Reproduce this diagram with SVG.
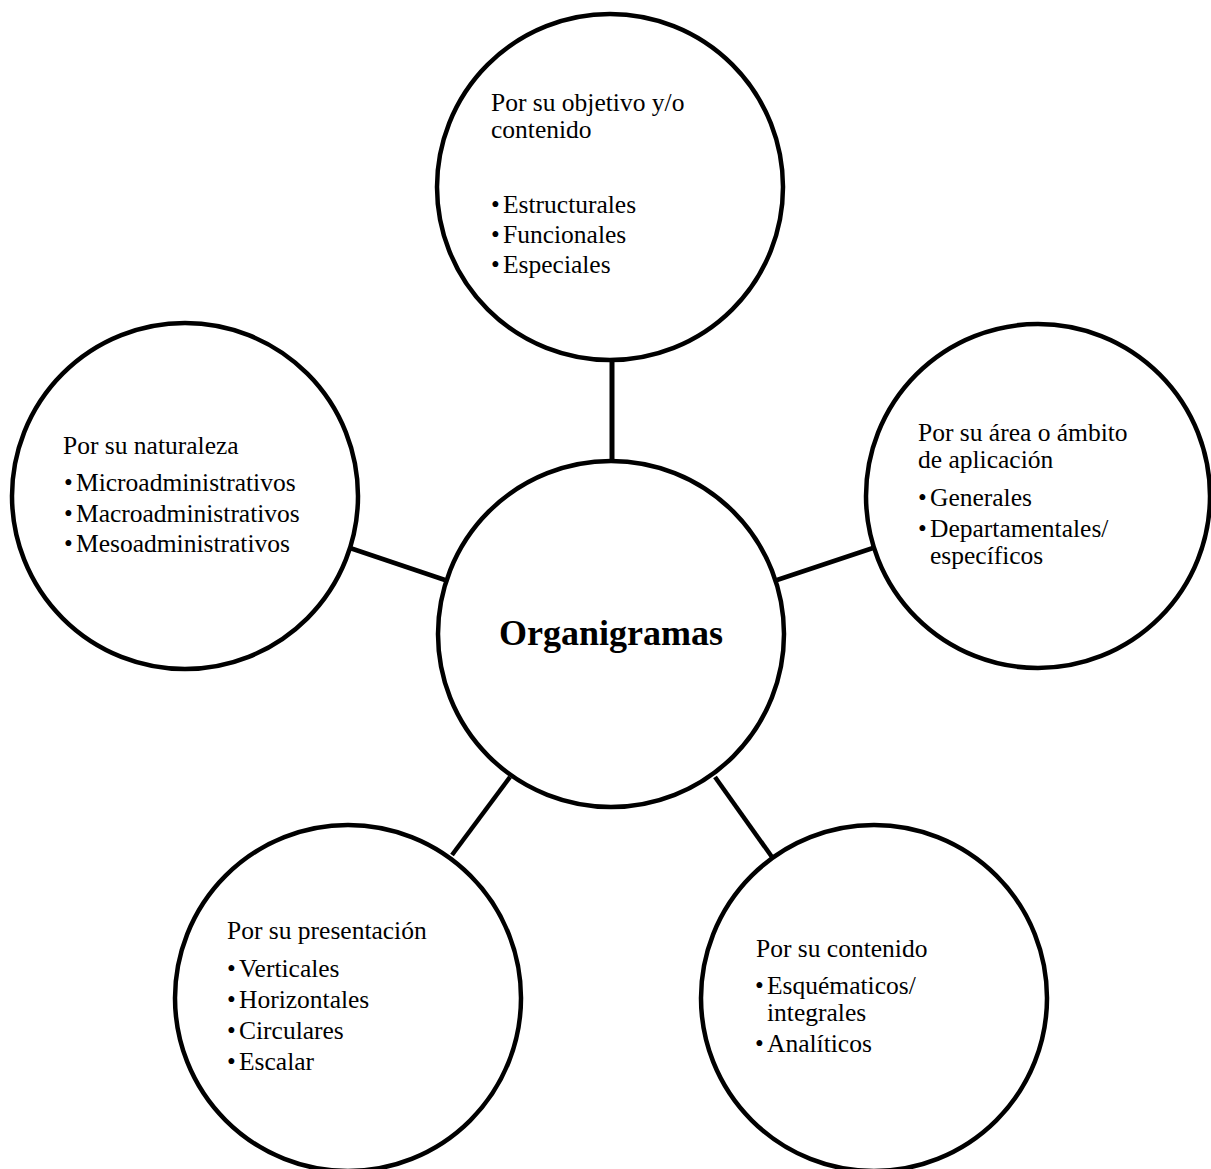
<svg xmlns="http://www.w3.org/2000/svg" width="1211" height="1169" viewBox="0 0 1211 1169">
<style>
.c{fill:#fff;stroke:#000;stroke-width:4.5}
.l{stroke:#000;stroke-width:4.5;fill:none}
text{font-family:"Liberation Serif","Times New Roman",serif;font-size:25.5px;fill:#000}
.b{font-size:25px}
.t{font-size:36px;font-weight:bold}
</style>
<rect width="1211" height="1169" fill="#fff"/>
<g id="connectors">
<line class="l" x1="612" y1="358" x2="612" y2="463" style="stroke-width:5"/>
<line class="l" x1="350" y1="548" x2="445" y2="580"/>
<line class="l" x1="777" y1="580" x2="873" y2="548"/>
<line class="l" x1="510" y1="777" x2="452" y2="855"/>
<line class="l" x1="715" y1="777" x2="772" y2="857"/>
</g>
<g id="center">
<circle class="c" cx="611" cy="634" r="173"/>
<text class="t" x="611" y="645" text-anchor="middle">Organigramas</text>
</g>
<g id="top">
<circle class="c" cx="610" cy="187" r="173"/>
<text x="491" y="111">Por su objetivo y/o</text>
<text x="491" y="138">contenido</text>
<text class="b" x="491" y="213">•</text><text x="503" y="213">Estructurales</text>
<text class="b" x="491" y="243">•</text><text x="503" y="243">Funcionales</text>
<text class="b" x="491" y="273">•</text><text x="503" y="273">Especiales</text>
</g>
<g id="left">
<circle class="c" cx="185" cy="496" r="173"/>
<text x="63" y="454">Por su naturaleza</text>
<text class="b" x="64" y="491">•</text><text x="76" y="491">Microadministrativos</text>
<text class="b" x="64" y="522">•</text><text x="76" y="522">Macroadministrativos</text>
<text class="b" x="64" y="552">•</text><text x="76" y="552">Mesoadministrativos</text>
</g>
<g id="right">
<circle class="c" cx="1038" cy="496" r="172"/>
<text x="918" y="441">Por su área o ámbito</text>
<text x="918" y="468">de aplicación</text>
<text class="b" x="918" y="506">•</text><text x="930" y="506">Generales</text>
<text class="b" x="918" y="537">•</text><text x="930" y="537">Departamentales/</text>
<text x="930" y="564">específicos</text>
</g>
<g id="bottom-left">
<circle class="c" cx="348" cy="998" r="173"/>
<text x="227" y="939">Por su presentación</text>
<text class="b" x="227" y="977">•</text><text x="239" y="977">Verticales</text>
<text class="b" x="227" y="1008">•</text><text x="239" y="1008">Horizontales</text>
<text class="b" x="227" y="1039">•</text><text x="239" y="1039">Circulares</text>
<text class="b" x="227" y="1070">•</text><text x="239" y="1070">Escalar</text>
</g>
<g id="bottom-right">
<circle class="c" cx="874" cy="998" r="173"/>
<text x="756" y="957">Por su contenido</text>
<text class="b" x="755" y="994">•</text><text x="767" y="994">Esquématicos/</text>
<text x="767" y="1021">integrales</text>
<text class="b" x="755" y="1052">•</text><text x="767" y="1052">Analíticos</text>
</g>
</svg>
